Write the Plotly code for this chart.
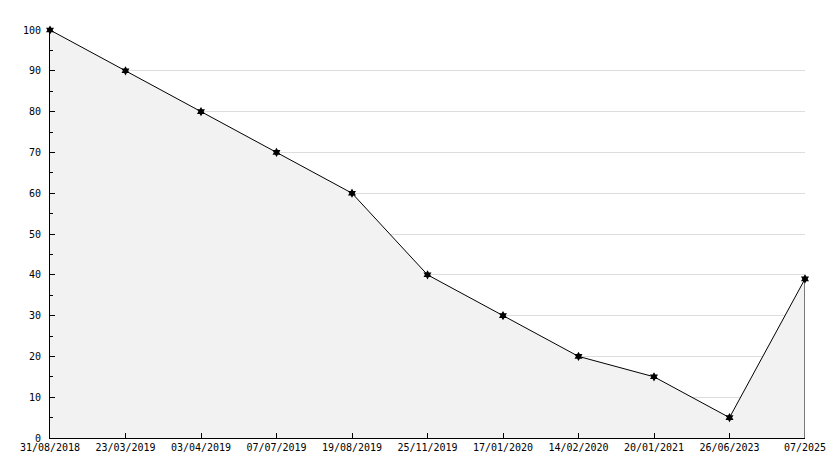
import plotly.graph_objects as go

dates = ["31/08/2018", "23/03/2019", "03/04/2019", "07/07/2019", "19/08/2019",
         "25/11/2019", "17/01/2020", "14/02/2020", "20/01/2021", "26/06/2023", "07/2025"]
values = [100, 90, 80, 70, 60, 40, 30, 20, 15, 5, 39]
y_ticks = list(range(0, 101, 10))

fig = go.Figure()
fig.add_trace(go.Scatter(
    x=dates, y=values, mode="lines+markers",
    fill="tozeroy", fillcolor="#f2f2f2",
    line=dict(color="black", width=1),
    marker=dict(symbol="hexagram", size=7, color="black"),
    hoverinfo="x+y", showlegend=False, cliponaxis=False,
))
# right-hand edge of the filled area
fig.add_trace(go.Scatter(
    x=[dates[-1], dates[-1]], y=[0, values[-1]], mode="lines",
    line=dict(color="black", width=1), hoverinfo="skip", showlegend=False,
))

font = dict(family="DejaVu Sans Mono", size=10, color="black")
# page body has an 8px default margin, so the figure is sized/offset to compensate
fig.update_layout(
    width=826, height=460,
    margin=dict(l=42, r=29, t=22, b=30, autoexpand=False),
    paper_bgcolor="white", plot_bgcolor="white",
    font=font,
    xaxis=dict(
        type="category", range=[0, len(dates) - 1],
        showgrid=False, zeroline=False, automargin=False,
        showline=True, linecolor="black", linewidth=1,
        ticks="inside", ticklen=5, tickcolor="black",
        tickfont=font,
    ),
    yaxis=dict(
        range=[0, 100], tickvals=y_ticks, automargin=False,
        showgrid=True, gridcolor="#dddddd", gridwidth=1,
        zeroline=False,
        showline=True, linecolor="black", linewidth=1,
        ticks="inside", ticklen=5, tickcolor="black",
        minor=dict(dtick=5, ticks="inside", ticklen=3, tickcolor="black", showgrid=False),
        ticklabelstandoff=6,
        tickfont=font,
    ),
)
fig.write_html("out.html")
